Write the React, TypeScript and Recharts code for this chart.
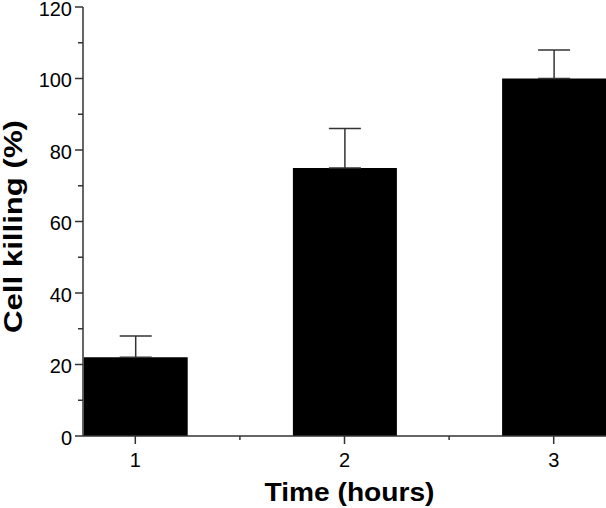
import { BarChart, Bar, XAxis, YAxis, ErrorBar } from 'recharts';

const times = [1, 2, 3];
const killing = [22, 75, 100];
const errors = [6, 11, 8];
const xTicks = [1, 1.5, 2, 2.5, 3];
const yTicks = [0, 10, 20, 30, 40, 50, 60, 70, 80, 90, 100, 110, 120];

const data = times.map((t, i) => ({ time: t, value: killing[i], err: [0, errors[i]] }));

const font = '"Liberation Sans", Arial, sans-serif';
const axisColor = '#333';

function YTick(props: any) {
  const { x, y, payload } = props;
  const major = payload.value % 20 === 0;
  return (
    <g>
      <line x1={x + 11} x2={x + (major ? 3 : 6)} y1={y} y2={y} stroke={axisColor} strokeWidth={1.5} />
      {major && (
        <text x={x} y={y + 1.5} dy="0.355em" textAnchor="end" fontSize={20} fontFamily={font} fill="#000">
          {payload.value}
        </text>
      )}
    </g>
  );
}

function XTick(props: any) {
  const { x, y, payload } = props;
  const major = Number.isInteger(payload.value);
  return (
    <g>
      <line x1={x} x2={x} y1={y - 17} y2={y - (major ? 9 : 13)} stroke={axisColor} strokeWidth={1.5} />
      {major && (
        <text x={x} y={y} dy="0.71em" textAnchor="middle" fontSize={20} fontFamily={font} fill="#000">
          {payload.value}
        </text>
      )}
    </g>
  );
}

function YLabel(props: any) {
  const { viewBox } = props;
  const cy = viewBox.y + viewBox.height / 2 + 5;
  return (
    <text
      x={22}
      y={cy}
      transform={`rotate(-90, 22, ${cy})`}
      textAnchor="middle"
      fontSize={25}
      fontWeight="bold"
      fontFamily={font}
      fill="#000"
      textLength={213}
      lengthAdjust="spacingAndGlyphs"
    >
      Cell killing (%)
    </text>
  );
}

function XLabel(props: any) {
  const { viewBox } = props;
  const cx = viewBox.x + viewBox.width / 2 + 5;
  return (
    <text
      x={cx}
      y={501}
      textAnchor="middle"
      fontSize={25}
      fontWeight="bold"
      fontFamily={font}
      fill="#000"
      textLength={170}
      lengthAdjust="spacingAndGlyphs"
    >
      Time (hours)
    </text>
  );
}

export default function App() {
  return (
    <div style={{ position: 'absolute', left: 0, top: 0, background: '#fff' }}>
      <BarChart width={606} height={508} data={data} margin={{ top: 7, right: 0, left: 0, bottom: 0 }}>
        <XAxis
          dataKey="time"
          type="number"
          domain={[0.75, 3.25]}
          ticks={xTicks}
          interval={0}
          height={72}
          tickLine={false}
          tickSize={0}
          tickMargin={17}
          tick={<XTick />}
          axisLine={{ stroke: axisColor, strokeWidth: 1.5 }}
          label={<XLabel />}
          allowDataOverflow
        />
        <YAxis
          type="number"
          domain={[0, 120]}
          ticks={yTicks}
          interval={0}
          width={83}
          tickLine={false}
          tickSize={0}
          tickMargin={11}
          tick={<YTick />}
          axisLine={{ stroke: axisColor, strokeWidth: 1.5 }}
          label={<YLabel />}
        />
        <Bar dataKey="value" fill="#000" barSize={104} isAnimationActive={false}>
          <ErrorBar dataKey="err" direction="y" width={16} stroke={axisColor} strokeWidth={1.5} isAnimationActive={false} />
        </Bar>
      </BarChart>
    </div>
  );
}
